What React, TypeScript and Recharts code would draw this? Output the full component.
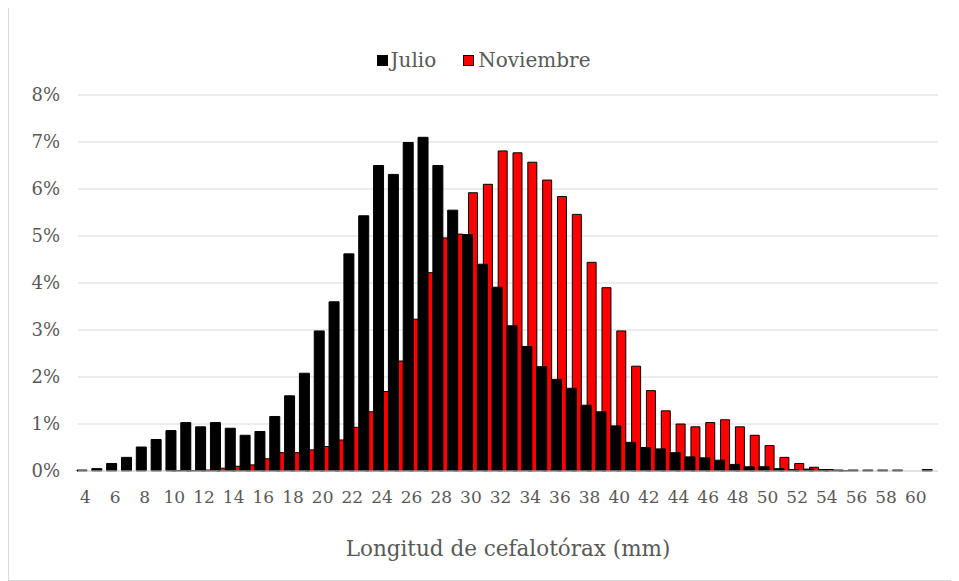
import React from "react";
import { BarChart, Bar, XAxis, YAxis, CartesianGrid, Legend } from "recharts";

const categories = [
  4, 5, 6, 7, 8, 9, 10, 11, 12, 13, 14, 15, 16, 17, 18, 19, 20, 21, 22, 23,
  24, 25, 26, 27, 28, 29, 30, 31, 32, 33, 34, 35, 36, 37, 38, 39, 40, 41, 42,
  43, 44, 45, 46, 47, 48, 49, 50, 51, 52, 53, 54, 55, 56, 57, 58, 59, 60, 61,
];

const julio = [
  0.02, 0.05, 0.16, 0.29, 0.51, 0.67, 0.86, 1.03, 0.94, 1.03, 0.91, 0.76, 0.84,
  1.16, 1.6, 2.08, 2.98, 3.6, 4.62, 5.43, 6.5, 6.31, 6.99, 7.1, 6.5, 5.55, 5.03,
  4.4, 3.91, 3.09, 2.65, 2.22, 1.95, 1.76, 1.4, 1.26, 0.96, 0.61, 0.5, 0.47,
  0.39, 0.3, 0.28, 0.23, 0.14, 0.09, 0.09, 0.05, 0.03, 0.04, 0.03, 0.02, 0.02,
  0.02, 0.02, 0.02, 0, 0.03,
];

const noviembre = [
  0, 0, 0, 0, 0, 0, 0.01, 0.01, 0.02, 0.06, 0.1, 0.13, 0.26, 0.39, 0.39, 0.45,
  0.52, 0.66, 0.93, 1.26, 1.69, 2.34, 3.23, 4.22, 4.96, 5.04, 5.92, 6.1, 6.81,
  6.77, 6.57, 6.19, 5.84, 5.46, 4.44, 3.9, 2.98, 2.23, 1.71, 1.28, 1.0, 0.94,
  1.03, 1.09, 0.94, 0.76, 0.54, 0.29, 0.16, 0.08, 0.03, 0.01, 0, 0, 0, 0, 0, 0,
];

const yTicks = [0, 1, 2, 3, 4, 5, 6, 7, 8];
const xTitle = "Longitud de cefalotórax (mm)";
const seriesNames = { julio: "Julio", noviembre: "Noviembre" };

const data = categories.map((c, i) => ({
  cat: c,
  julio: julio[i],
  noviembre: noviembre[i],
}));

const FONT = "DejaVu Serif";
const TEXT = "#595959";

const LegendContent = () => (
  <div
    style={{
      display: "flex",
      justifyContent: "center",
      alignItems: "center",
      fontFamily: FONT,
      fontSize: 20,
      color: TEXT,
      gap: 27,
    }}
  >
    <div style={{ display: "flex", alignItems: "center" }}>
      <span
        style={{
          width: 11,
          height: 11,
          background: "#000",
          display: "inline-block",
          marginRight: 3,
        }}
      />
      <span>{seriesNames.julio}</span>
    </div>
    <div style={{ display: "flex", alignItems: "center" }}>
      <span
        style={{
          width: 9,
          height: 9,
          background: "#ff0000",
          border: "1px solid #000",
          display: "inline-block",
          marginRight: 4,
        }}
      />
      <span>{seriesNames.noviembre}</span>
    </div>
  </div>
);

export default function App() {
  return (
    <div
      style={{
        width: 951,
        height: 574,
        marginTop: -1,
        border: "1px solid #d9d9d9",
        boxSizing: "border-box",
        background: "#fff",
      }}
    >
      <BarChart
        width={949}
        height={572}
        data={data}
        margin={{ top: 87, right: 20, bottom: 0, left: 0 }}
        barGap={-15}
        barCategoryGap={0}
      >
        <CartesianGrid vertical={false} stroke="#d9d9d9" strokeWidth={1} />
        <XAxis
          dataKey="cat"
          interval={1}
          tickLine={false}
          tickSize={0}
          tickMargin={20}
          height={109}
          axisLine={{ stroke: "#d9d9d9" }}
          tick={{ fill: TEXT, fontFamily: FONT, fontSize: 17 }}
          label={{
            value: xTitle,
            position: "insideBottom",
            offset: 24,
            fill: TEXT,
            fontFamily: FONT,
            fontSize: 21.5,
          }}
        />
        <YAxis
          domain={[0, 8]}
          ticks={yTicks}
          width={69}
          tickLine={false}
          axisLine={false}
          tickSize={0}
          tickMargin={18}
          tickFormatter={(v) => `${v}%`}
          tick={{ fill: TEXT, fontFamily: FONT, fontSize: 18 }}
        />
        <Legend
          verticalAlign="middle"
          align="center"
          content={<LegendContent />}
          wrapperStyle={{ top: 40, left: 0, width: 949 }}
        />
        <Bar
          dataKey="noviembre"
          name={seriesNames.noviembre}
          fill="#ff0000"
          stroke="#000"
          strokeWidth={1}
          barSize={9}
          isAnimationActive={false}
        />
        <Bar
          dataKey="julio"
          name={seriesNames.julio}
          fill="#000"
          stroke="#000"
          strokeWidth={1}
          barSize={10}
          isAnimationActive={false}
        />
      </BarChart>
    </div>
  );
}
